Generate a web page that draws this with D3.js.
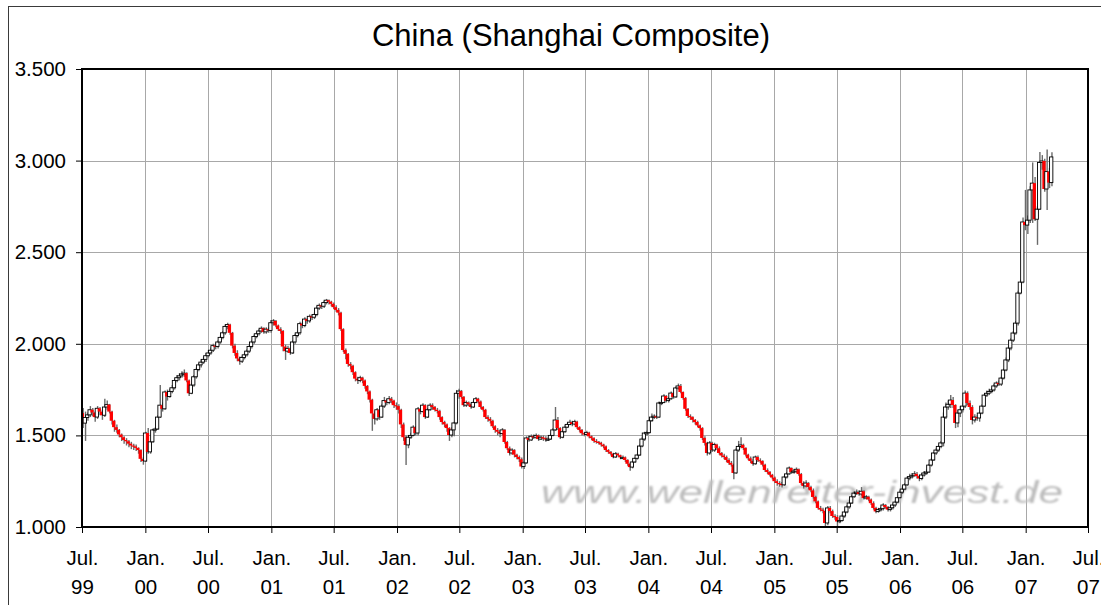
<!DOCTYPE html>
<html>
<head>
<meta charset="utf-8">
<script src="https://cdn.jsdelivr.net/npm/d3@7"></script>
<style>
  body { margin: 0; background: #fff; }
  svg text { font-family: "Liberation Sans", Arial, sans-serif; }
</style>
</head>
<body>
<div id="chart"></div>
<script>
// Chart size and plot area
const width = 1101;
const height = 605;
const margin = {left: 82, right: 13, top: 69, bottom: 78};

// Weekly candles, first week ending Fri 2 Jul 1999
const startDate = new Date(1999, 6, 2);
const firstOpen = 1622;

// weekly closes (open of a week = close of the week before)
const closes = [
  1567,1598,1612,1640,1625,1600,1648,1630,1610,1655,1668,1630,1580,1545,1530,1505,1490,1475,1468,1455,1445,1440,1432,1420,1372,1360,
  1513,1410,1465,1530,1535,1600,1665,1645,1737,1712,1740,1760,1800,1815,1825,1835,1840,1800,1730,1775,1820,1860,1885,1900,1915,1935,
  1950,1965,1990,1985,2010,2035,2060,2095,2105,2060,1990,1950,1920,1905,1925,1940,1960,1985,2010,2040,2055,2070,2085,2065,2080,2073,
  2115,2125,2100,2080,2070,1985,1960,1975,1950,2010,2045,2060,2110,2100,2135,2125,2150,2145,2160,2195,2210,2205,2225,2238,2230,2218,
  2200,2185,2170,2080,1966,1945,1890,1880,1845,1810,1800,1815,1800,1770,1740,1695,1620,1590,1640,1600,1660,1690,1680,1700,1690,1665,
  1660,1640,1560,1490,1448,1490,1500,1545,1513,1645,1630,1665,1600,1640,1665,1655,1640,1633,1600,1573,1560,1540,1502,1530,1568,1730,
  1742,1710,1665,1680,1670,1655,1680,1700,1685,1655,1640,1600,1590,1580,1550,1530,1520,1510,1530,1464,1430,1404,1420,1395,1382,1370,
  1330,1350,1486,1475,1495,1490,1500,1480,1490,1485,1478,1480,1500,1530,1584,1540,1490,1520,1545,1560,1572,1562,1575,1545,1530,1512,
  1505,1515,1495,1485,1470,1465,1460,1450,1440,1420,1410,1400,1382,1400,1392,1380,1380,1366,1345,1327,1355,1375,1393,1442,1480,1513,
  1515,1580,1600,1605,1600,1677,1680,1715,1690,1700,1731,1710,1759,1770,1737,1704,1645,1606,1600,1585,1573,1555,1540,1486,1459,1404,
  1459,1420,1450,1430,1404,1390,1382,1366,1350,1340,1295,1420,1440,1448,1431,1395,1375,1360,1345,1382,1365,1360,1340,1311,1300,1285,
  1270,1250,1240,1235,1230,1273,1290,1322,1300,1305,1315,1289,1240,1224,1240,1218,1200,1164,1140,1104,1095,1088,1022,1104,1087,1060,
  1055,1030,1035,1060,1082,1110,1131,1165,1185,1190,1180,1195,1158,1165,1150,1130,1104,1085,1095,1100,1120,1109,1095,1105,1120,1136,
  1160,1190,1207,1230,1267,1275,1280,1290,1278,1265,1284,1295,1300,1338,1366,1404,1420,1440,1459,1600,1655,1670,1693,1666,1568,1622,
  1640,1660,1731,1677,1655,1584,1600,1595,1622,1660,1720,1730,1740,1748,1770,1786,1780,1813,1857,1912,1977,2020,2059,2113,2277,2337,
  2665,2648,2675,2840,2877,2680,2735,2990,2998,2845,2940,2880,3020
];

const highs = [
  1650,1630,1625,1660,1650,1630,1660,1655,1640,1700,1690,1672,1635,1585,1560,1535,1510,1495,1485,1475,1465,1455,1450,1435,1425,1380,
  1520,1540,1470,1535,1545,1610,1775,1680,1745,1750,1755,1775,1810,1830,1840,1850,1860,1845,1805,1785,1830,1870,1895,1915,1930,1950,
  1965,1980,2000,2005,2020,2045,2070,2105,2115,2110,2065,2000,1965,1930,1935,1950,1970,1995,2020,2050,2065,2080,2095,2090,2090,2090,
  2130,2135,2130,2105,2090,2075,1995,1990,1980,2020,2055,2070,2120,2120,2145,2140,2160,2160,2170,2205,2220,2220,2235,2245,2242,2235,
  2225,2210,2195,2175,2085,1975,1950,1900,1885,1850,1820,1825,1820,1805,1775,1745,1700,1630,1650,1645,1670,1710,1700,1715,1710,1695,
  1680,1670,1645,1570,1500,1500,1515,1555,1550,1655,1650,1675,1670,1650,1675,1675,1660,1650,1640,1605,1580,1565,1545,1545,1575,1748,
  1755,1748,1715,1690,1685,1675,1690,1710,1705,1690,1660,1645,1610,1600,1585,1555,1540,1530,1540,1535,1470,1440,1430,1425,1400,1390,
  1380,1360,1495,1500,1505,1505,1510,1505,1500,1500,1495,1490,1510,1540,1655,1600,1545,1530,1555,1570,1585,1580,1585,1580,1550,1535,
  1520,1525,1520,1500,1490,1480,1470,1465,1455,1445,1425,1415,1405,1410,1405,1395,1390,1385,1370,1350,1360,1380,1400,1450,1490,1520,
  1525,1590,1620,1615,1610,1685,1695,1725,1720,1710,1740,1735,1765,1783,1780,1740,1710,1650,1615,1605,1590,1580,1560,1545,1495,1465,
  1470,1465,1460,1455,1440,1410,1400,1390,1375,1360,1345,1430,1470,1490,1455,1435,1400,1385,1370,1390,1390,1375,1365,1345,1320,1305,
  1290,1275,1260,1250,1245,1280,1300,1330,1325,1315,1325,1320,1295,1250,1255,1245,1225,1210,1170,1145,1115,1105,1095,1115,1115,1095,
  1070,1065,1050,1070,1095,1120,1145,1175,1195,1205,1200,1218,1200,1175,1170,1155,1140,1110,1105,1110,1130,1125,1115,1115,1130,1145,
  1165,1200,1215,1240,1275,1290,1295,1305,1300,1285,1295,1305,1315,1345,1375,1410,1430,1450,1470,1625,1680,1690,1720,1710,1670,1640,
  1660,1680,1745,1740,1690,1665,1615,1610,1630,1670,1725,1745,1755,1760,1780,1795,1800,1820,1865,1925,1985,2030,2070,2125,2290,2350,
  2690,2840,2700,2860,2990,2910,2750,3047,3030,3010,3060,2960,3045
];

const lows = [
  1540,1470,1580,1600,1605,1575,1590,1610,1585,1600,1640,1620,1560,1520,1515,1490,1470,1455,1445,1435,1425,1420,1415,1400,1355,1340,
  1355,1400,1400,1460,1515,1530,1595,1630,1640,1690,1705,1730,1750,1790,1800,1815,1820,1790,1715,1725,1765,1810,1850,1870,1890,1900,
  1925,1940,1955,1970,1975,2000,2025,2050,2080,2050,1975,1935,1905,1885,1895,1915,1930,1950,1975,2000,2030,2045,2060,2055,2055,2060,
  2060,2100,2090,2070,2055,1960,1912,1950,1940,1945,2000,2035,2050,2085,2090,2110,2115,2130,2135,2150,2185,2190,2195,2215,2215,2205,
  2190,2175,2155,2070,1955,1915,1875,1860,1830,1795,1780,1790,1785,1755,1725,1680,1525,1560,1580,1585,1595,1650,1665,1670,1675,1650,
  1640,1620,1540,1470,1339,1430,1480,1495,1500,1500,1615,1625,1590,1595,1635,1640,1630,1620,1585,1560,1545,1520,1470,1490,1495,1560,
  1700,1700,1655,1655,1660,1645,1650,1675,1675,1645,1630,1590,1575,1565,1540,1515,1500,1490,1500,1455,1420,1390,1395,1380,1370,1355,
  1320,1316,1345,1465,1470,1480,1480,1470,1475,1470,1465,1470,1475,1495,1525,1530,1480,1485,1515,1540,1555,1550,1555,1535,1520,1500,
  1495,1500,1485,1475,1460,1455,1450,1440,1430,1410,1400,1390,1375,1378,1385,1370,1370,1355,1335,1307,1320,1350,1368,1388,1435,1470,
  1500,1510,1575,1590,1590,1595,1665,1675,1680,1680,1695,1700,1705,1750,1730,1695,1635,1595,1585,1570,1560,1545,1525,1475,1445,1390,
  1395,1410,1410,1420,1395,1380,1370,1355,1340,1330,1260,1290,1410,1430,1420,1385,1365,1350,1335,1340,1355,1350,1330,1300,1290,1275,
  1260,1240,1225,1220,1215,1225,1265,1285,1290,1290,1295,1280,1230,1210,1215,1205,1190,1155,1130,1095,1085,1075,998,1010,1075,1050,
  1040,1004,1020,1030,1050,1075,1100,1125,1160,1175,1170,1170,1150,1150,1140,1120,1095,1075,1078,1085,1090,1100,1085,1085,1095,1110,
  1130,1155,1180,1200,1225,1255,1265,1275,1265,1250,1255,1275,1285,1295,1330,1360,1395,1410,1430,1440,1590,1640,1650,1650,1540,1545,
  1600,1625,1650,1665,1640,1560,1570,1580,1575,1615,1655,1710,1720,1730,1740,1760,1770,1770,1805,1850,1900,1965,2010,2050,2100,2270,
  2330,2620,2600,2660,2660,2670,2540,2730,2950,2830,2730,2850,2860
];

// axis values
const yTicks = [1000, 1500, 2000, 2500, 3000, 3500];
const xTickDates = d3.timeMonth.every(6).range(new Date(1999, 6, 1), new Date(2007, 6, 2));
const monthLabels = {0: "Jan.", 6: "Jul."};

const de = d3.formatLocale({decimal: ",", thousands: ".", grouping: [3], currency: ["", " €"]});
const yFormat = de.format(",");

const svg = d3.select("#chart")
  .append("svg")
  .attr("width", width)
  .attr("height", height);

// outer chart frame (right and bottom edges run off the picture)
svg.append("rect")
  .attr("x", 8.5).attr("y", 6.5)
  .attr("width", 1200).attr("height", 700)
  .attr("fill", "none")
  .attr("stroke", "#3a3a3a")
  .attr("stroke-width", 1);

// scales
const xScale = d3.scaleTime()
  .domain([new Date(1999, 6, 1), new Date(2007, 6, 1)])
  .range([margin.left, width - margin.right]);

const yScale = d3.scaleLinear()
  .domain([1000, 3500])
  .range([height - margin.bottom, margin.top]);

const plotTop = margin.top, plotBottom = height - margin.bottom;
const plotLeft = margin.left, plotRight = width - margin.right;

// gridlines
svg.append("g")
  .selectAll("line")
  .data(yTicks.slice(1, -1))
  .join("line")
    .attr("x1", plotLeft).attr("x2", plotRight)
    .attr("y1", d => Math.round(yScale(d)) + 0.5)
    .attr("y2", d => Math.round(yScale(d)) + 0.5)
    .attr("stroke", "#a8a8a8");

svg.append("g")
  .selectAll("line")
  .data(xTickDates.slice(1, -1))
  .join("line")
    .attr("x1", d => Math.round(xScale(d)) + 0.5)
    .attr("x2", d => Math.round(xScale(d)) + 0.5)
    .attr("y1", plotTop).attr("y2", plotBottom)
    .attr("stroke", "#a8a8a8");

// watermark
const defs = svg.append("defs");
defs.append("filter").attr("id", "blur")
  .append("feGaussianBlur").attr("stdDeviation", 1.3);
defs.append("clipPath").attr("id", "plotclip")
  .append("rect")
  .attr("x", plotLeft).attr("y", plotTop)
  .attr("width", plotRight - plotLeft).attr("height", plotBottom - plotTop);

svg.append("text")
  .attr("x", 541).attr("y", 503)
  .attr("textLength", 522)
  .attr("lengthAdjust", "spacingAndGlyphs")
  .attr("font-size", "31px")
  .attr("font-style", "italic")
  .attr("fill", "#bdbdbd")
  .attr("filter", "url(#blur)")
  .text("www.wellenreiter-invest.de");

// candles
const candles = closes.map((c, i) => ({
  date: d3.timeDay.offset(startDate, 7 * i),
  open: i === 0 ? firstOpen : closes[i - 1],
  close: c,
  high: highs[i],
  low: lows[i]
}));

const cg = svg.append("g").attr("clip-path", "url(#plotclip)");

cg.selectAll(".wick")
  .data(candles)
  .join("line")
    .attr("class", "wick")
    .attr("x1", d => xScale(d.date) + 0.8)
    .attr("x2", d => xScale(d.date) + 0.8)
    .attr("y1", d => yScale(d.high))
    .attr("y2", d => yScale(d.low))
    .attr("stroke", "#6a6a6a")
    .attr("stroke-width", 1.4);

cg.selectAll(".body")
  .data(candles)
  .join("rect")
    .attr("class", "body")
    .attr("x", d => xScale(d.date) - 1.6)
    .attr("width", 3.3)
    .attr("y", d => yScale(Math.max(d.open, d.close)))
    .attr("height", d => Math.max(1.2, Math.abs(yScale(d.open) - yScale(d.close))))
    .attr("fill", d => d.close < d.open ? "#ff0000" : "#ffffff")
    .attr("stroke", d => d.close < d.open ? "none" : "#000")
    .attr("stroke-width", 0.9);

// y axis
const yAxis = svg.append("g")
  .attr("transform", `translate(${plotLeft},0)`)
  .call(d3.axisLeft(yScale).tickValues(yTicks).tickSize(6).tickPadding(10).tickFormat(yFormat));
yAxis.select(".domain").remove();
yAxis.selectAll("line").attr("stroke", "#000");
yAxis.selectAll("text")
  .attr("font-size", "20.5px")
  .attr("fill", "#000")
  .attr("font-family", "Liberation Sans, Arial, sans-serif");

// x axis with two line labels
const xAxis = svg.append("g")
  .attr("transform", `translate(0,${plotBottom})`)
  .call(d3.axisBottom(xScale).tickValues(xTickDates).tickSize(6).tickFormat(""));
xAxis.select(".domain").remove();
xAxis.selectAll("line").attr("stroke", "#000");
xAxis.selectAll(".tick").each(function(d) {
  const t = d3.select(this).append("text")
    .attr("text-anchor", "middle")
    .attr("font-size", "20.5px")
    .attr("fill", "#000");
  t.append("tspan").attr("x", 0).attr("y", 38).text(monthLabels[d.getMonth()]);
  t.append("tspan").attr("x", 0).attr("y", 67).text(d3.timeFormat("%y")(d));
});

// plot frame
svg.append("rect")
  .attr("x", plotLeft).attr("y", plotTop)
  .attr("width", plotRight - plotLeft).attr("height", plotBottom - plotTop)
  .attr("fill", "none")
  .attr("stroke", "#000")
  .attr("stroke-width", 2);

// title
svg.append("text")
  .attr("x", 571).attr("y", 46)
  .attr("text-anchor", "middle")
  .attr("font-size", "31px")
  .attr("fill", "#000")
  .text("China (Shanghai Composite)");
</script>
</body>
</html>
